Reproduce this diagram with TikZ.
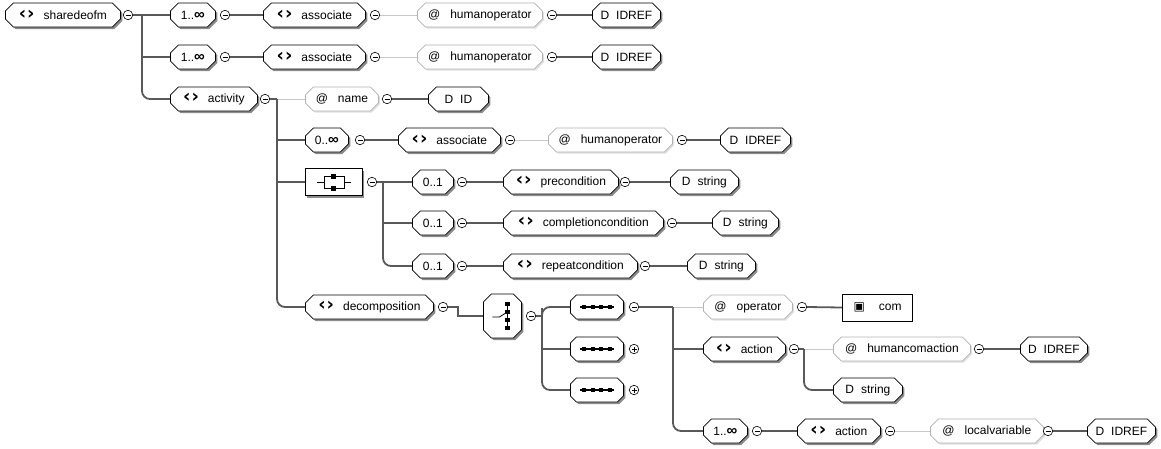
\documentclass[tikz,border=0pt]{standalone}
\usepackage{fontspec}
\setmainfont{Liberation Sans}
\newfontfamily\symfont{DejaVu Sans}
\usepackage{tikz}
\usetikzlibrary{shapes.misc, shadows, positioning}

\newcommand{\elicon}{{\symfont\bfseries\fontsize{18}{14}\selectfont ‹\hspace{1pt}›}\hspace{9pt}}
\newcommand{\unbounded}{{\bfseries\fontsize{15}{12}\selectfont ∞}}
\newcommand{\seqbar}{\rule[1.4pt]{4.5pt}{1.2pt}}
\newcommand{\seqsq}{\rule{4pt}{4pt}}
\newcommand{\seqicon}{\rule[1.4pt]{2pt}{1.2pt}\seqsq\seqbar\seqsq\seqbar\seqsq\seqbar\seqsq\rule[1.4pt]{2pt}{1.2pt}}

\begin{document}
\begin{tikzpicture}[x=1pt, y=-1pt, font=\fontsize{12}{14}\selectfont,
  boxbase/.style={chamfered rectangle, chamfered rectangle sep=4pt, line width=0.8pt, fill=white, anchor=west, minimum height=24pt, inner sep=0pt},
  darkshade/.style={drop shadow={shadow xshift=2pt, shadow yshift=-2pt, fill=black!45, opacity=1}},
  element/.style={boxbase, draw=black, darkshade},
  attribute/.style={boxbase, draw=black!30, text=black, drop shadow={shadow xshift=1.5pt, shadow yshift=-1.5pt, fill=black!12, opacity=1}},
  compositor/.style={rectangle, draw=black, line width=0.8pt, fill=white, anchor=west, darkshade},
  collapse/.style={circle, draw, line width=0.6pt, fill=white, inner sep=0pt, minimum size=9.5pt, path picture={\draw[line width=0.6pt] ([xshift=-2.5pt]path picture bounding box.center) -- ([xshift=2.5pt]path picture bounding box.center);}},
  expand/.style={circle, draw, line width=0.6pt, fill=white, inner sep=0pt, minimum size=9.5pt, path picture={\draw[line width=0.6pt] ([xshift=-2.5pt]path picture bounding box.center) -- ([xshift=2.5pt]path picture bounding box.center) ([yshift=-2.5pt]path picture bounding box.center) -- ([yshift=2.5pt]path picture bounding box.center);}},
  wire/.style={draw=black!65, line width=1.8pt},
  attwire/.style={draw=black!22, line width=0.8pt}]
\useasboundingbox (0,0) rectangle (1161,448);

% root and the two associate rows
\node[element, minimum width=115pt] (root) at (5,15) {\elicon sharedeofm};
\node[collapse] (root-c) at (128,15) {};
\node[element, minimum width=45pt] (occ1) at (170,15) {1..\unbounded};
\node[collapse] (occ1-c) at (225,15) {};
\node[element, minimum width=102pt] (asA) at (263,15) {\elicon associate};
\node[collapse] (asA-c) at (375,15) {};
\node[attribute, minimum width=125pt] (hoA) at (417,15) {@\hspace{10pt}humanoperator};
\node[collapse] (hoA-c) at (552,15) {};
\node[element, minimum width=68pt] (idrefA) at (592,15) {D\hspace{7pt}IDREF};

\node[element, minimum width=45pt] (occ2) at (170,57) {1..\unbounded};
\node[collapse] (occ2-c) at (225,57) {};
\node[element, minimum width=102pt] (asB) at (263,57) {\elicon associate};
\node[collapse] (asB-c) at (375,57) {};
\node[attribute, minimum width=125pt] (hoB) at (417,57) {@\hspace{10pt}humanoperator};
\node[collapse] (hoB-c) at (552,57) {};
\node[element, minimum width=68pt] (idrefB) at (592,57) {D\hspace{7pt}IDREF};

% activity
\node[element, minimum width=87pt] (act) at (170,99) {\elicon activity};
\node[collapse] (act-c) at (265,99) {};
\node[attribute, minimum width=73pt] (name) at (305,99) {@\hspace{10pt}name};
\node[collapse] (name-c) at (387,99) {};
\node[element, minimum width=60pt] (id) at (428,99) {D\hspace{7pt}ID};

\node[element, minimum width=43pt] (occ3) at (305,140) {0..\unbounded};
\node[collapse] (occ3-c) at (360,140) {};
\node[element, minimum width=102pt] (asC) at (398,140) {\elicon associate};
\node[collapse] (asC-c) at (510,140) {};
\node[attribute, minimum width=124pt] (hoC) at (548,140) {@\hspace{10pt}humanoperator};
\node[collapse] (hoC-c) at (682,140) {};
\node[element, minimum width=70pt] (idrefC) at (720,140) {D\hspace{7pt}IDREF};

% all compositor
\node[compositor, minimum width=57pt, minimum height=27pt] (all) at (305,182) {};
\node[collapse] (all-c) at (372,182) {};
\node[element, minimum width=41pt] (opt1) at (412,182) {0..1};
\node[collapse] (opt1-c) at (462,182) {};
\node[element, minimum width=115pt] (pre) at (503,182) {\elicon precondition};
\node[collapse] (pre-c) at (625,182) {};
\node[element, minimum width=68pt] (str1) at (670,182) {D\hspace{7pt}string};

\node[element, minimum width=41pt] (opt2) at (412,223) {0..1};
\node[collapse] (opt2-c) at (462,223) {};
\node[element, minimum width=160pt] (cmp) at (503,223) {\elicon completioncondition};
\node[collapse] (cmp-c) at (672,223) {};
\node[element, minimum width=66pt] (str2) at (712,223) {D\hspace{7pt}string};

\node[element, minimum width=41pt] (opt3) at (412,266) {0..1};
\node[collapse] (opt3-c) at (462,266) {};
\node[element, minimum width=134pt] (rep) at (503,266) {\elicon repeatcondition};
\node[collapse] (rep-c) at (645,266) {};
\node[element, minimum width=68pt] (str3) at (687,266) {D\hspace{7pt}string};

% decomposition
\node[element, minimum width=128pt] (dec) at (305,307) {\elicon decomposition};
\node[collapse] (dec-c) at (443,307) {};
\node[element, minimum width=38pt, minimum height=44pt] (choice) at (483,316) {\rule{0pt}{30pt}\rule{20pt}{0pt}};
\node[collapse] (choice-c) at (531,316) {};
\node[element, minimum width=53pt] (seq1) at (570,307) {\seqicon};
\node[collapse] (seq1-c) at (634,307) {};
\node[element, minimum width=53pt] (seq2) at (570,349) {\seqicon};
\node[expand] (seq2-c) at (634,349) {};
\node[element, minimum width=53pt] (seq3) at (570,390) {\seqicon};
\node[expand] (seq3-c) at (634,390) {};

\node[attribute, minimum width=89pt] (op) at (703,307) {@\hspace{10pt}operator};
\node[collapse] (op-c) at (802,307) {};
\node[rectangle, draw=black, line width=1pt, fill=white, anchor=west, minimum width=70pt, minimum height=27pt] (com) at (842,307.5) {{\symfont ▣}\hspace{14pt}com};

\node[element, minimum width=82pt] (action) at (703,349) {\elicon action};
\node[collapse] (action-c) at (794,349) {};
\node[attribute, minimum width=137pt] (hca) at (833,349) {@\hspace{10pt}humancomaction};
\node[collapse] (hca-c) at (979,349) {};
\node[element, minimum width=67pt] (idrefH) at (1020,349) {D\hspace{7pt}IDREF};
\node[element, minimum width=69pt] (strH) at (833,390) {D\hspace{7pt}string};

\node[element, minimum width=44pt] (occ4) at (703,431) {1..\unbounded};
\node[collapse] (occ4-c) at (757,431) {};
\node[element, minimum width=83pt] (action2) at (797,431) {\elicon action};
\node[collapse] (action2-c) at (890,431) {};
\node[attribute, minimum width=113pt] (lv) at (930,431) {@\hspace{10pt}localvariable};
\node[collapse] (lv-c) at (1048,431) {};
\node[element, minimum width=68pt] (idrefL) at (1087,431) {D\hspace{7pt}IDREF};

% icons
\draw[line width=0.8pt] ([xshift=-17pt]all.center) -- ([xshift=-10pt]all.center) ([xshift=10pt]all.center) -- ([xshift=17pt]all.center);
\draw[line width=0.8pt] ([xshift=-10pt,yshift=-6pt]all.center) rectangle ([xshift=10pt,yshift=6pt]all.center);
\fill ([yshift=6pt]all.center) +(-2.5pt,-2.5pt) rectangle +(2.5pt,2.5pt);
\fill ([yshift=-6pt]all.center) +(-2.5pt,-2.5pt) rectangle +(2.5pt,2.5pt);

\draw[line width=0.6pt] ([xshift=5pt,yshift=12pt]choice.center) -- ([xshift=5pt,yshift=-12pt]choice.center);
\foreach \d in {-12,-4,4,12}
  \fill ([xshift=5pt,yshift=\d pt]choice.center) +(-2.2pt,-2.2pt) rectangle +(2.2pt,2.2pt);
\draw[line width=0.8pt] ([xshift=-10pt,yshift=-1pt]choice.center) -- ([xshift=-3pt,yshift=-1pt]choice.center) -- ([xshift=5pt,yshift=4pt]choice.center);

% connectors
\coordinate (j-root) at (142,15);
\draw[wire] (root-c.east) -- (occ1.west);
\draw[wire] (j-root) |- (occ2.west);
\draw[wire, rounded corners=8pt] (j-root) |- (act.west);

\draw[wire] (occ1-c.east) -- (asA.west);
\draw[attwire] (asA-c.east) -- (hoA.west);
\draw[wire] (hoA-c.east) -- (idrefA.west);
\draw[wire] (occ2-c.east) -- (asB.west);
\draw[attwire] (asB-c.east) -- (hoB.west);
\draw[wire] (hoB-c.east) -- (idrefB.west);

\coordinate (j-act) at (277,99);
\draw[wire] (act-c.east) -- (j-act);
\draw[attwire] (j-act) -- (name.west);
\draw[wire] (name-c.east) -- (id.west);
\draw[wire] (j-act) |- (occ3.west);
\draw[wire] (j-act) |- (all.west);
\draw[wire, rounded corners=8pt] (j-act) |- (dec.west);

\draw[wire] (occ3-c.east) -- (asC.west);
\draw[attwire] (asC-c.east) -- (hoC.west);
\draw[wire] (hoC-c.east) -- (idrefC.west);

\coordinate (j-all) at (383,182);
\draw[wire] (all-c.east) -- (opt1.west);
\draw[wire] (j-all) |- (opt2.west);
\draw[wire, rounded corners=8pt] (j-all) |- (opt3.west);
\draw[wire] (opt1-c.east) -- (pre.west);
\draw[wire] (pre-c.east) -- (str1.west);
\draw[wire] (opt2-c.east) -- (cmp.west);
\draw[wire] (cmp-c.east) -- (str2.west);
\draw[wire] (opt3-c.east) -- (rep.west);
\draw[wire] (rep-c.east) -- (str3.west);

\draw[wire] (dec-c.east) -- ++(10,0) |- (choice.west);
\coordinate (j-choice) at (542,316);
\draw[wire] (choice-c.east) -- (j-choice);
\draw[wire, rounded corners=8pt] (seq1.west) -| (j-choice) |- (seq3.west);
\draw[wire] (j-choice) |- (seq2.west);

\coordinate (j-seq) at (673,307);
\draw[wire] (seq1-c.east) -- (j-seq);
\draw[attwire] (j-seq) -- (op.west);
\draw[wire] (op-c.east) -- (com.west);
\draw[wire] (j-seq) |- (action.west);
\draw[wire, rounded corners=8pt] (j-seq) |- (occ4.west);

\coordinate (j-action) at (804,349);
\draw[wire] (action-c.east) -- (j-action);
\draw[attwire] (j-action) -- (hca.west);
\draw[wire] (hca-c.east) -- (idrefH.west);
\draw[wire, rounded corners=8pt] (j-action) |- (strH.west);

\draw[wire] (occ4-c.east) -- (action2.west);
\draw[attwire] (action2-c.east) -- (lv.west);
\draw[wire] (lv-c.east) -- (idrefL.west);
\end{tikzpicture}
\end{document}
